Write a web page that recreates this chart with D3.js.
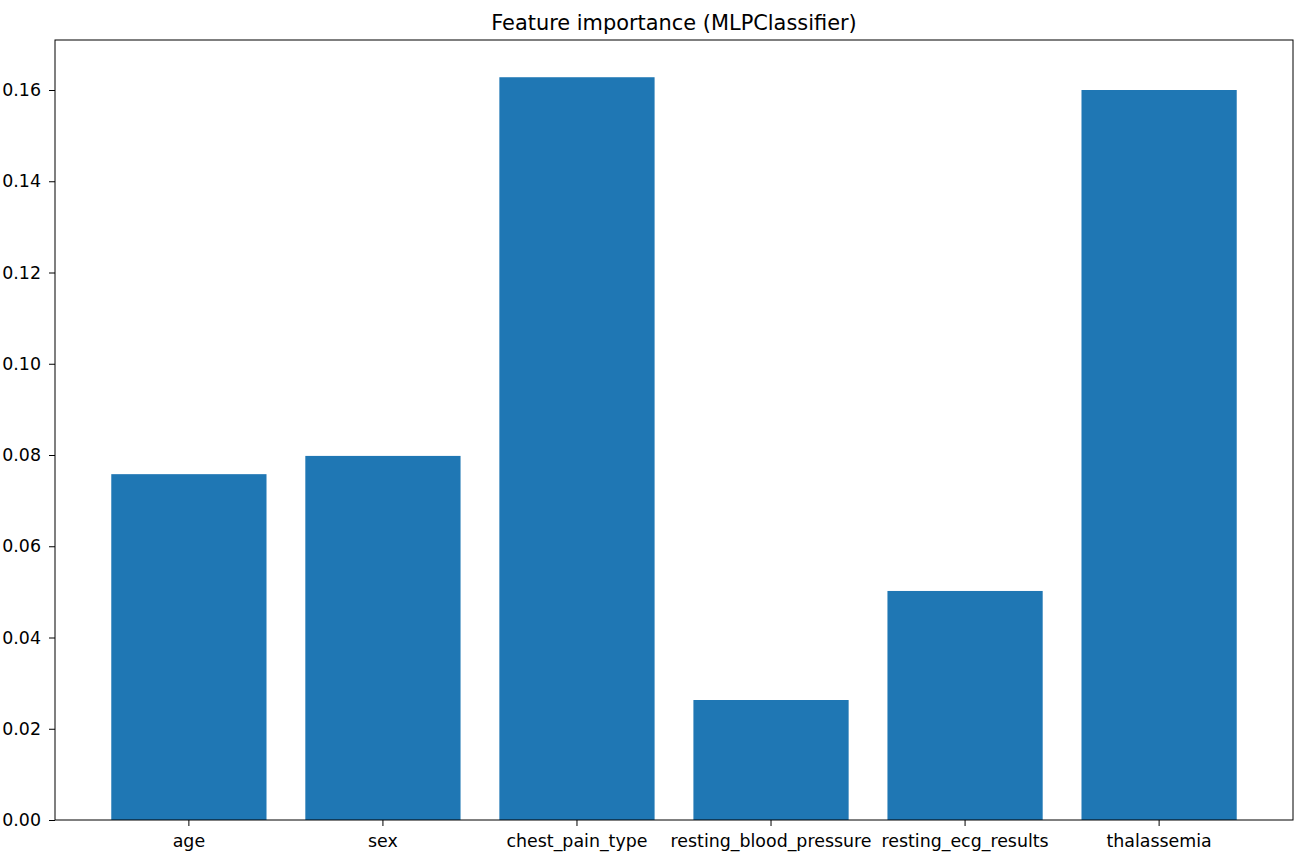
<!DOCTYPE html>
<html>
<head>
<meta charset="utf-8">
<script src="https://cdn.jsdelivr.net/npm/d3@7"></script>
<style>
  body { margin: 0; background: #fff; }
  svg text { font-family: "DejaVu Sans", sans-serif; fill: #000; }
</style>
</head>
<body>
<div id="chart"></div>
<script>
// Feature names and importance values
const features = ['age', 'sex', 'chest_pain_type', 'resting_blood_pressure', 'resting_ecg_results', 'thalassemia'];
const importances = [0.0758, 0.0798, 0.1628, 0.0263, 0.0502, 0.1600];
const yTicks = [0.00, 0.02, 0.04, 0.06, 0.08, 0.10, 0.12, 0.14, 0.16];

const width = 1300, height = 852;
const margin = {top: 40, right: 7, bottom: 32, left: 55};

const svg = d3.select('#chart')
    .append('svg')
    .attr('width', width)
    .attr('height', height);

const x = d3.scaleBand()
    .domain(features)
    .range([margin.left, width - margin.right])
    .paddingInner(0.2)
    .paddingOuter(0.29);

const y = d3.scaleLinear()
    .domain([0, 0.17096])
    .range([height - margin.bottom, margin.top]);

// Bars
svg.selectAll('.bar')
    .data(features)
    .enter()
    .append('rect')
    .attr('class', 'bar')
    .attr('x', d => x(d))
    .attr('width', x.bandwidth())
    .attr('y', (d, i) => y(importances[i]))
    .attr('height', (d, i) => y(0) - y(importances[i]))
    .attr('fill', '#1f77b4');

// Axes
const xAxis = svg.append('g')
    .attr('transform', `translate(0,${height - margin.bottom})`)
    .call(d3.axisBottom(x).tickSize(6).tickPadding(6));

const yAxis = svg.append('g')
    .attr('transform', `translate(${margin.left},0)`)
    .call(d3.axisLeft(y).tickValues(yTicks).tickFormat(d3.format('.2f')).tickSize(6).tickPadding(8));

[xAxis, yAxis].forEach(g => {
    g.select('.domain').remove();
    g.selectAll('text').style('font-size', '17.4px').attr('fill', '#000');
    g.selectAll('line').attr('stroke', '#000').attr('stroke-width', 1);
});
xAxis.selectAll('text').attr('y', 27).attr('dy', null);

// Frame
svg.append('rect')
    .attr('x', margin.left)
    .attr('y', margin.top)
    .attr('width', width - margin.left - margin.right)
    .attr('height', height - margin.top - margin.bottom)
    .attr('fill', 'none')
    .attr('stroke', '#000')
    .attr('stroke-width', 1);

// Title
svg.append('text')
    .attr('x', (margin.left + width - margin.right) / 2)
    .attr('y', 30)
    .attr('text-anchor', 'middle')
    .style('font-size', '20.9px')
    .text('Feature importance (MLPClassifier)');
</script>
</body>
</html>
